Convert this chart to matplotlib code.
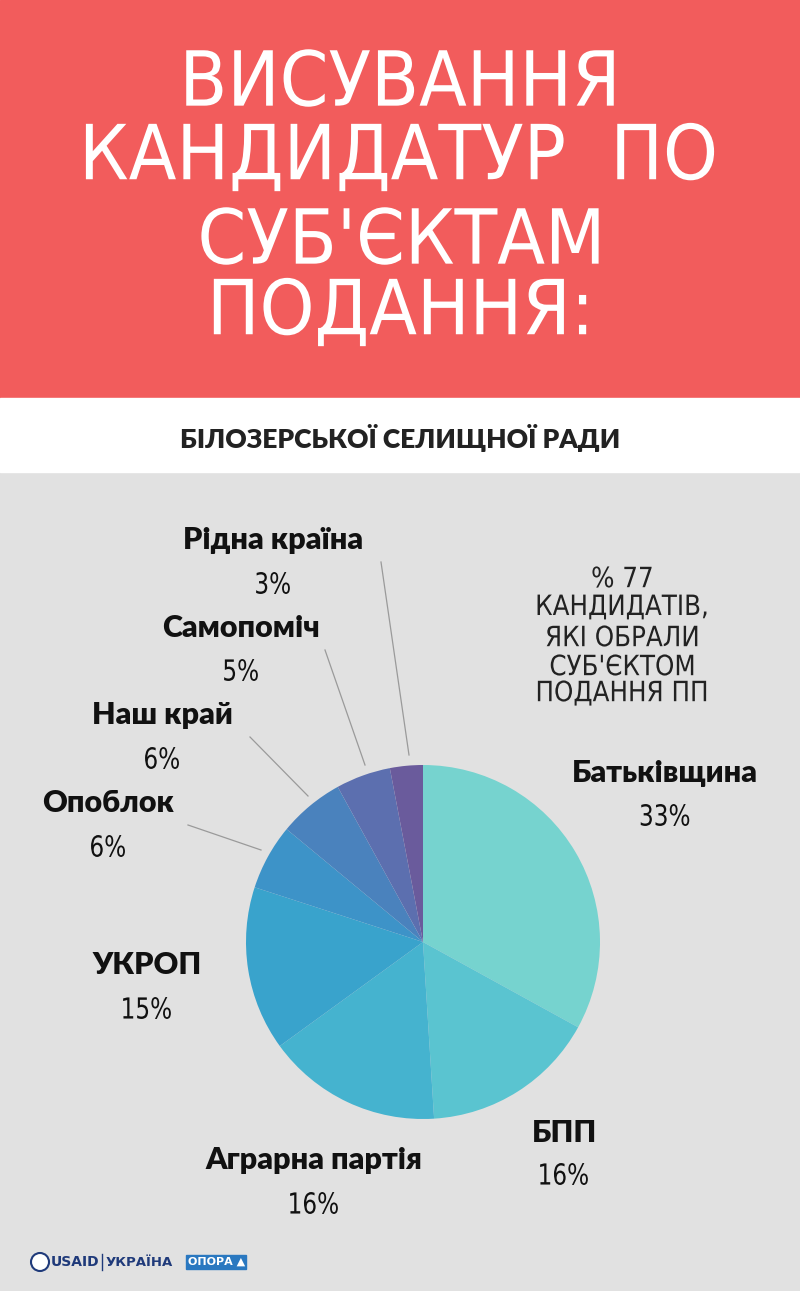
import matplotlib
matplotlib.use("Agg")
import matplotlib.pyplot as plt
from matplotlib.patches import Rectangle, Circle, PathPatch
from matplotlib.textpath import TextPath
from matplotlib.font_manager import FontProperties
from matplotlib.transforms import Affine2D

labels = ["Батьківщина", "БПП", "Аграрна партія", "УКРОП", "Опоблок", "Наш край", "Самопоміч", "Рідна країна"]
values = [33, 16, 16, 15, 6, 6, 5, 3]
pct_labels = ["33%", "16%", "16%", "15%", "6%", "6%", "5%", "3%"]
colors = ["#76d3cf", "#5ac4d0", "#45b3cf", "#39a3cc", "#3d93c8", "#4a82bd", "#5c6faf", "#6a5b9c"]

W, H = 800, 1291
fig = plt.figure(figsize=(8, 12.91), dpi=100)
ax = fig.add_axes([0, 0, 1, 1])
ax.set_xlim(0, W); ax.set_ylim(0, H); ax.set_aspect("equal"); ax.axis("off")
Y = lambda y: H - y

ax.add_patch(Rectangle((0, 0), W, H, color="#e1e1e1", zorder=0))
ax.add_patch(Rectangle((0, Y(398)), W, 398, color="#f25c5c", zorder=0))
ax.add_patch(Rectangle((0, Y(472)), W, 74, color="#ffffff", zorder=0))

def narrow_text(x, y, s, size_px, sx, color, family="DejaVu Sans", weight="normal"):
    fp = FontProperties(family=family, weight=weight)
    tp = TextPath((0, 0), s, size=size_px, prop=fp)
    bb = tp.get_extents()
    tr = Affine2D().translate(-(bb.x0 + bb.x1) / 2, -(bb.y0 + bb.y1) / 2).scale(sx, 1).translate(x, y)
    ax.add_patch(PathPatch(tr.transform_path(tp), facecolor=color, edgecolor="none", zorder=5))

for t, y in zip(["ВИСУВАННЯ", "КАНДИДАТУР  ПО", "СУБ'ЄКТАМ", "ПОДАННЯ:"], [78, 157, 236, 312]):
    narrow_text(400, Y(y), t, 76, 0.92, "white", family="DejaVu Sans", weight="normal")

ax.text(400, Y(438), "БІЛОЗЕРСЬКОЇ СЕЛИЩНОЇ РАДИ", fontsize=19, family=["Lato", "DejaVu Sans"],
        fontweight="heavy", color="#222222", ha="center", va="center")

ax.pie(values, colors=colors, startangle=90, counterclock=False, center=(423, Y(942)), radius=177,
       wedgeprops=dict(linewidth=0))
ax.set_xlim(0, W); ax.set_ylim(0, H)

pos = [(665, 773, 815), (564, 1133, 1174), (314, 1160, 1203), (147, 965, 1008),
       (108, 803, 846), (162, 715, 758), (241, 628, 670), (273, 540, 583)]
for lab, pl, (x, y1, y2) in zip(labels, pct_labels, pos):
    ax.text(x, Y(y1), lab, fontsize=22, fontweight="heavy", family=["Lato", "DejaVu Sans"],
            color="#111111", ha="center", va="center")
    narrow_text(x, Y(y2), pl, 29, 0.8, "#111111")

for (x1, y1), (x2, y2) in [((381, 562), (409, 755)), ((325, 650), (365, 765)),
                           ((250, 737), (308, 796)), ((188, 825), (261, 850))]:
    ax.plot([x1, x2], [Y(y1), Y(y2)], color="#9a9a9a", lw=0.9)

for t, y in zip(["% 77", "КАНДИДАТІВ,", "ЯКІ ОБРАЛИ", "СУБ'ЄКТОМ", "ПОДАННЯ ПП"], [577, 607, 636, 665, 693]):
    narrow_text(622, Y(y), t, 28, 0.88, "#222222")

# logos
ax.add_patch(Circle((40, Y(1262)), 9, facecolor="white", edgecolor="#1f3a7a", lw=1.5))
ax.text(51, Y(1262), "USAID", fontsize=10, fontweight="bold", color="#1f3a7a", va="center", ha="left")
ax.plot([102, 102], [Y(1254), Y(1270)], color="#1f3a7a", lw=1)
ax.text(106, Y(1262), "УКРАЇНА", fontsize=9.5, fontweight="bold", color="#1f3a7a", va="center")
ax.add_patch(Rectangle((186, Y(1269)), 60, 14, color="#2a78c0"))
ax.text(188, Y(1262), "ОПОРА ▲", fontsize=8, fontweight="bold", color="white", va="center",
        family=["DejaVu Sans"])

fig.savefig("out.png", dpi=100)
